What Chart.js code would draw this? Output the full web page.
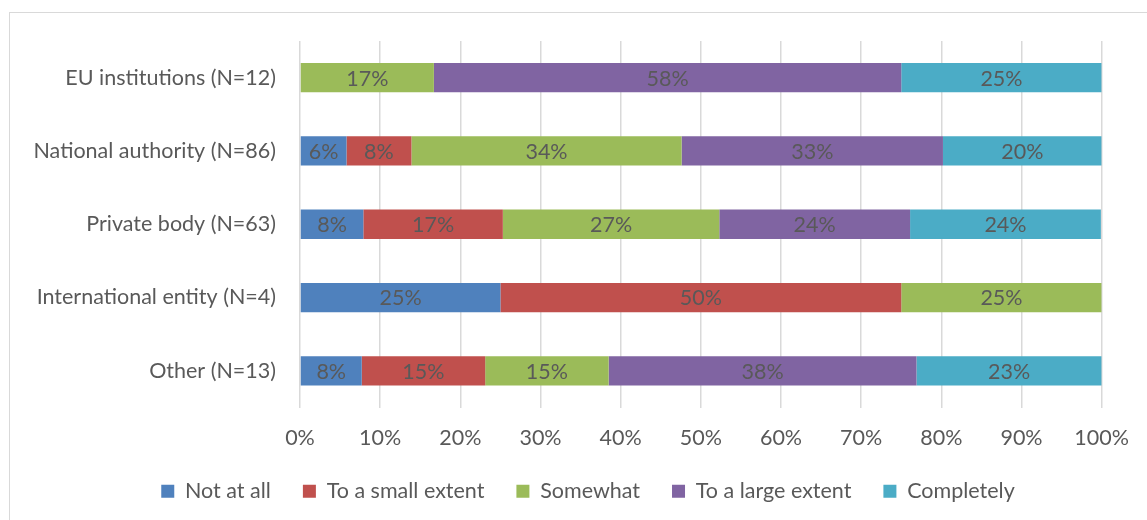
<!DOCTYPE html>
<html>
<head>
<meta charset="utf-8">
<script src="https://cdn.jsdelivr.net/npm/chart.js@4"></script>
<style>
  html, body { margin: 0; padding: 0; background: #fff; overflow: hidden; }
  #wrap { position: relative; width: 1147px; height: 520px; }
  #frame { position: absolute; left: 9px; top: 12px; width: 1300px; height: 700px; border: 1px solid #d9d9d9; box-sizing: border-box; }
  canvas { position: absolute; left: 0; top: 0; }
</style>
</head>
<body>
<div id="wrap">
  <div id="frame"></div>
  <canvas id="chart" width="1147" height="520"></canvas>
</div>
<script>
const categories = ['EU institutions (N=12)', 'National authority (N=86)', 'Private body (N=63)', 'International entity (N=4)', 'Other (N=13)'];
const seriesNames = ['Not at all', 'To a small extent', 'Somewhat', 'To a large extent', 'Completely'];
const seriesColors = ['#4f81bd', '#c0504d', '#9bbb59', '#8064a2', '#4bacc6'];

// shares per category, in %
const notAtAll = [0, 5.8, 7.9, 25, 7.7];
const smallExtent = [0, 8.1, 17.4, 50, 15.4];
const somewhat = [16.7, 33.7, 27.0, 25, 15.4];
const largeExtent = [58.3, 32.6, 23.8, 0, 38.4];
const completely = [25, 19.8, 23.8, 0, 23.1];
const xTicks = [0, 10, 20, 30, 40, 50, 60, 70, 80, 90, 100];

const FONT = 'Lato, "Liberation Sans", sans-serif';
const SIZE = 21.5;
const TEXT = '#595959';

const allSeries = [notAtAll, smallExtent, somewhat, largeExtent, completely];

const barLabels = {
  id: 'barLabels',
  afterDatasetsDraw(chart) {
    const ctx = chart.ctx;
    ctx.save();
    ctx.font = `${SIZE}px ${FONT}`;
    ctx.fillStyle = TEXT;
    ctx.textAlign = 'center';
    ctx.textBaseline = 'middle';
    chart.data.datasets.forEach((ds, di) => {
      chart.getDatasetMeta(di).data.forEach((bar, i) => {
        const v = ds.data[i];
        if (!v) return;
        const cx = (bar.x + bar.base) / 2;
        ctx.fillText(Math.round(v) + '%', cx, bar.y + 1);
      });
    });
    ctx.restore();
  }
};

// legend sits a bit right of the canvas centre in the original
const legendShift = {
  id: 'legendShift',
  afterLayout(chart) {
    chart.legend.left += 37;
    chart.legend.right += 37;
  }
};

new Chart(document.getElementById('chart'), {
  type: 'bar',
  data: {
    labels: categories,
    datasets: seriesNames.map((name, i) => ({
      label: name,
      data: allSeries[i],
      backgroundColor: seriesColors[i],
      borderWidth: 0,
      categoryPercentage: 1,
      barPercentage: 0.4
    }))
  },
  options: {
    indexAxis: 'y',
    responsive: false,
    animation: false,
    layout: { padding: { top: 41, right: 45, left: 0, bottom: 8 } },
    plugins: {
      legend: {
        position: 'bottom',
        labels: {
          color: TEXT,
          font: { family: FONT, size: SIZE },
          boxWidth: 13,
          boxHeight: 13,
          padding: 32
        }
      },
      tooltip: { enabled: false }
    },
    scales: {
      x: {
        stacked: true,
        min: 0,
        max: 100,
        afterBuildTicks: scale => { scale.ticks = xTicks.map(v => ({ value: v })); },
        afterFit: scale => { scale.height = 41; },
        ticks: {
          color: TEXT,
          font: { family: FONT, size: SIZE },
          padding: 18,
          callback: v => v + '%'
        },
        grid: { color: '#d9d9d9', lineWidth: 1.5, drawTicks: false },
        border: { display: false }
      },
      y: {
        stacked: true,
        afterFit: scale => { scale.width = 300; },
        ticks: {
          color: TEXT,
          font: { family: FONT, size: SIZE },
          padding: 24
        },
        grid: { display: false, drawTicks: false },
        border: { display: false }
      }
    }
  },
  plugins: [barLabels, legendShift]
});
</script>
</body>
</html>
